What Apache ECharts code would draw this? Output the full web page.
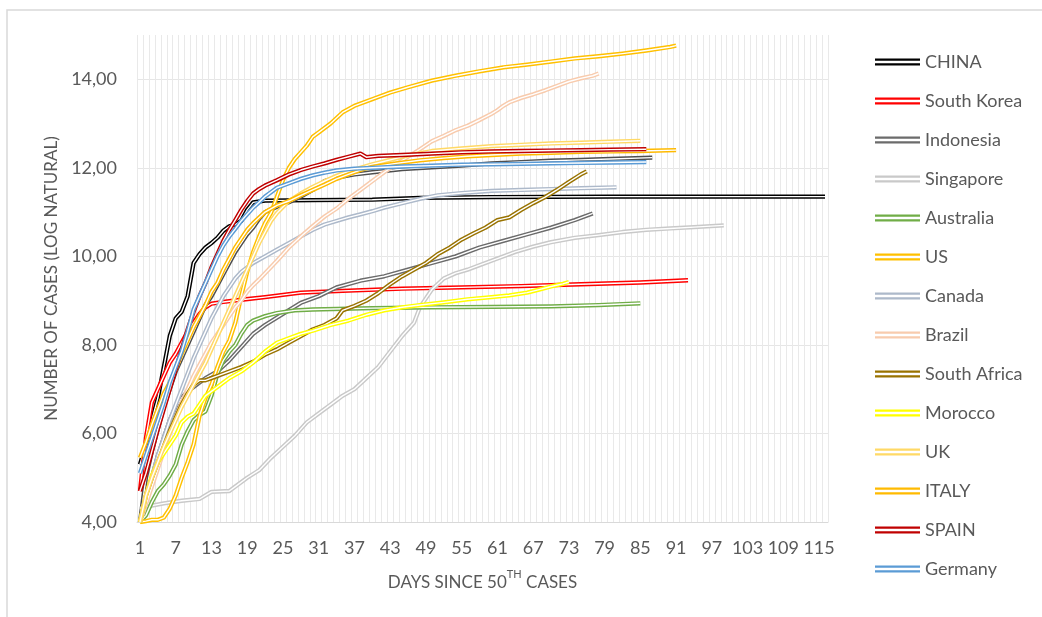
<!DOCTYPE html>
<html>
<head>
<meta charset="utf-8">
<script src="https://cdn.jsdelivr.net/npm/echarts@6/dist/echarts.min.js"></script>
<style>
  html, body { margin: 0; padding: 0; background: #ffffff; }
  #chart { width: 1042px; height: 617px; }
</style>
</head>
<body>
<div id="chart"></div>
<script>
// Days since the 50th confirmed case (category axis 1..116)
const days = [];
for (let d = 1; d <= 116; d++) days.push(String(d));

// ln(cumulative cases) as [day, value] pairs
const china = [[1,5.3],[2,5.75],[3,6.3],[4,6.8],[5,7.5],[6,8.2],[7,8.6],[8,8.75],[9,9.1],[10,9.85],[11,10.05],[12,10.2],[13,10.3],[14,10.42],[15,10.58],[16,10.68],[17,10.72],[18,10.8],[19,11.05],[20,11.22],[22,11.26],[30,11.27],[40,11.28],[48,11.32],[60,11.34],[80,11.35],[116,11.35]];
const southKorea = [[1,4.7],[2,5.9],[3,6.7],[4,7.0],[5,7.3],[6,7.6],[7,7.8],[8,8.05],[9,8.3],[10,8.5],[11,8.7],[12,8.85],[13,8.93],[15,8.97],[18,9.02],[22,9.08],[28,9.18],[35,9.22],[45,9.27],[55,9.3],[65,9.33],[75,9.37],[85,9.41],[93,9.46]];
const indonesia = [[1,4.0],[2,4.5],[3,5.0],[4,5.5],[5,5.9],[6,6.3],[7,6.6],[8,6.8],[9,6.95],[10,7.05],[11,7.15],[12,7.25],[14,7.4],[16,7.65],[18,7.95],[20,8.25],[22,8.45],[25,8.7],[28,8.95],[31,9.1],[34,9.3],[38,9.45],[42,9.55],[46,9.7],[50,9.85],[54,10.0],[58,10.2],[62,10.35],[66,10.5],[70,10.65],[74,10.82],[77,10.97]];
const series15 = [[1,4.0],[2,5.0],[3,5.6],[4,6.1],[5,6.6],[6,7.0],[7,7.4],[8,7.7],[9,8.0],[10,8.3],[11,8.6],[12,8.9],[13,9.1],[14,9.35],[15,9.6],[16,9.85],[17,10.1],[18,10.3],[19,10.5],[20,10.65],[21,10.85],[22,11.0],[24,11.12],[26,11.22],[28,11.35],[30,11.5],[32,11.7],[34,11.78],[37,11.85],[40,11.9],[45,11.97],[50,12.01],[55,12.05],[60,12.1],[65,12.13],[70,12.16],[75,12.18],[80,12.2],[87,12.23]];
const singapore = [[1,4.3],[3,4.37],[5,4.42],[8,4.48],[11,4.52],[12,4.6],[13,4.68],[16,4.7],[17,4.8],[19,5.0],[21,5.17],[23,5.45],[25,5.7],[27,5.95],[29,6.25],[31,6.45],[33,6.65],[35,6.85],[37,7.0],[39,7.25],[41,7.5],[43,7.85],[45,8.2],[47,8.5],[48,8.85],[49,9.05],[50,9.25],[52,9.5],[54,9.62],[56,9.7],[58,9.8],[61,9.95],[64,10.1],[67,10.22],[70,10.32],[74,10.42],[78,10.48],[82,10.55],[86,10.6],[90,10.63],[94,10.66],[99,10.7]];
const australia = [[1,4.0],[2,4.15],[3,4.45],[4,4.7],[5,4.85],[6,5.05],[7,5.3],[8,5.75],[9,6.05],[10,6.3],[11,6.42],[12,6.5],[13,6.85],[14,7.35],[15,7.65],[16,7.85],[17,8.0],[18,8.25],[19,8.45],[20,8.55],[22,8.65],[24,8.72],[27,8.78],[30,8.8],[40,8.83],[50,8.85],[60,8.86],[70,8.87],[78,8.9],[85,8.94]];
const us = [[1,4.0],[2,4.02],[3,4.05],[4,4.05],[5,4.1],[6,4.3],[7,4.6],[8,5.0],[9,5.35],[10,5.75],[11,6.4],[12,6.8],[13,7.1],[14,7.5],[15,7.85],[16,8.1],[17,8.5],[18,9.1],[19,9.65],[20,10.1],[21,10.45],[22,10.75],[23,10.98],[24,11.35],[25,11.72],[26,12.0],[27,12.2],[28,12.35],[29,12.5],[30,12.7],[31,12.8],[33,13.0],[35,13.25],[37,13.4],[40,13.55],[43,13.7],[46,13.82],[50,13.97],[54,14.08],[58,14.18],[62,14.27],[66,14.33],[70,14.4],[74,14.47],[78,14.52],[82,14.58],[86,14.65],[90,14.73],[91,14.76]];
const canada = [[1,4.0],[2,4.5],[3,5.0],[4,5.5],[5,5.9],[6,6.3],[7,6.65],[8,7.0],[9,7.35],[10,7.7],[11,8.0],[12,8.3],[13,8.6],[14,8.85],[15,9.1],[16,9.3],[17,9.5],[18,9.65],[19,9.75],[20,9.85],[22,10.0],[24,10.15],[26,10.3],[28,10.45],[30,10.6],[32,10.72],[34,10.8],[36,10.88],[38,10.95],[40,11.02],[42,11.1],[45,11.2],[48,11.3],[51,11.38],[55,11.43],[60,11.48],[65,11.5],[70,11.52],[75,11.54],[81,11.56]];
const brazil = [[1,4.0],[2,4.4],[3,4.8],[4,5.2],[5,5.6],[6,6.0],[7,6.35],[8,6.7],[9,7.0],[10,7.3],[11,7.55],[12,7.8],[13,8.05],[14,8.25],[15,8.45],[16,8.65],[17,8.85],[18,9.0],[19,9.2],[20,9.35],[21,9.48],[22,9.62],[24,9.9],[26,10.2],[28,10.45],[30,10.68],[32,10.9],[34,11.08],[36,11.3],[38,11.5],[40,11.7],[42,11.9],[44,12.08],[46,12.25],[48,12.42],[50,12.6],[52,12.72],[54,12.85],[56,12.95],[58,13.08],[60,13.22],[61,13.3],[62,13.4],[63,13.48],[65,13.58],[67,13.66],[69,13.75],[71,13.85],[73,13.95],[75,14.02],[77,14.08],[78,14.13]];
const southAfrica = [[1,4.0],[2,4.6],[3,5.0],[4,5.35],[5,5.7],[6,6.05],[7,6.35],[8,6.65],[9,6.9],[10,7.1],[11,7.2],[12,7.2],[13,7.25],[14,7.3],[16,7.4],[18,7.5],[20,7.62],[22,7.78],[24,7.9],[26,8.05],[28,8.2],[30,8.35],[32,8.45],[34,8.6],[35,8.78],[37,8.88],[39,9.0],[41,9.17],[43,9.37],[45,9.55],[47,9.7],[49,9.85],[51,10.05],[53,10.2],[55,10.38],[57,10.52],[59,10.65],[61,10.82],[63,10.88],[65,11.05],[67,11.2],[69,11.34],[71,11.5],[73,11.68],[75,11.85],[76,11.92]];
const morocco = [[1,4.0],[2,4.6],[3,5.05],[4,5.35],[5,5.55],[6,5.75],[7,5.95],[8,6.25],[9,6.38],[10,6.45],[11,6.65],[12,6.85],[13,6.95],[14,7.05],[15,7.15],[16,7.25],[18,7.4],[20,7.6],[22,7.85],[24,8.05],[26,8.15],[28,8.25],[30,8.32],[33,8.45],[36,8.55],[39,8.68],[42,8.78],[45,8.85],[48,8.9],[52,8.96],[56,9.03],[60,9.08],[63,9.12],[66,9.18],[68,9.25],[70,9.32],[72,9.38],[73,9.42]];
const uk = [[1,4.0],[2,4.6],[3,5.0],[4,5.35],[5,5.7],[6,6.0],[7,6.3],[8,6.6],[9,6.85],[10,7.1],[11,7.35],[12,7.6],[13,7.9],[14,8.2],[15,8.5],[16,8.8],[17,9.1],[18,9.4],[19,9.7],[20,10.0],[21,10.3],[22,10.55],[23,10.8],[24,10.98],[26,11.25],[28,11.42],[30,11.57],[32,11.7],[34,11.82],[36,11.92],[38,12.0],[40,12.08],[43,12.18],[46,12.28],[50,12.38],[55,12.44],[60,12.49],[65,12.52],[70,12.55],[75,12.57],[80,12.59],[85,12.61]];
const italy = [[1,5.45],[2,5.8],[3,6.2],[4,6.55],[5,6.9],[6,7.15],[7,7.45],[8,7.8],[9,8.1],[10,8.4],[11,8.65],[12,8.9],[13,9.2],[14,9.4],[15,9.7],[16,9.95],[17,10.2],[18,10.4],[19,10.6],[20,10.75],[22,11.0],[24,11.15],[26,11.25],[28,11.38],[30,11.5],[32,11.62],[34,11.75],[36,11.85],[38,11.95],[40,12.02],[44,12.1],[48,12.17],[52,12.22],[56,12.26],[60,12.29],[65,12.32],[70,12.34],[75,12.36],[80,12.37],[85,12.38],[91,12.4]];
const spain = [[1,4.7],[2,5.1],[3,5.6],[4,6.1],[5,6.55],[6,7.0],[7,7.45],[8,7.9],[9,8.35],[10,8.75],[11,9.1],[12,9.4],[13,9.75],[14,10.05],[15,10.35],[16,10.6],[17,10.82],[18,11.05],[19,11.25],[20,11.42],[21,11.52],[22,11.6],[24,11.72],[26,11.85],[28,11.95],[30,12.03],[32,12.1],[34,12.18],[36,12.25],[38,12.32],[39,12.24],[41,12.27],[45,12.29],[50,12.32],[55,12.35],[60,12.37],[65,12.38],[70,12.39],[75,12.4],[80,12.41],[86,12.42]];
const germany = [[1,5.1],[2,5.5],[3,5.9],[4,6.3],[5,6.7],[6,7.15],[7,7.5],[8,7.85],[9,8.3],[10,8.8],[11,9.1],[12,9.4],[13,9.7],[14,10.0],[15,10.25],[16,10.45],[17,10.62],[18,10.8],[19,10.95],[20,11.1],[21,11.22],[22,11.35],[23,11.45],[24,11.55],[26,11.65],[28,11.75],[30,11.83],[32,11.89],[34,11.94],[37,11.98],[40,12.0],[45,12.03],[50,12.05],[55,12.07],[60,12.08],[65,12.09],[70,12.1],[75,12.11],[80,12.12],[86,12.13]];

const countries = [
  { name: 'CHINA',        color: '#000000', data: china },
  { name: 'South Korea',  color: '#FF0000', data: southKorea },
  { name: 'Indonesia',    color: '#6B6B6B', data: indonesia },
  { name: 'Series15',     color: '#4F4F4F', data: series15 },
  { name: 'Singapore',    color: '#C9C9C9', data: singapore },
  { name: 'Australia',    color: '#70AD47', data: australia },
  { name: 'US',           color: '#FFC000', data: us },
  { name: 'Canada',       color: '#ADB9CA', data: canada },
  { name: 'Brazil',       color: '#F8CBAD', data: brazil },
  { name: 'South Africa', color: '#997300', data: southAfrica },
  { name: 'Morocco',      color: '#FFFF00', data: morocco },
  { name: 'UK',           color: '#FFD966', data: uk },
  { name: 'ITALY',        color: '#FFBA00', data: italy },
  { name: 'SPAIN',        color: '#C00000', data: spain },
  { name: 'Germany',      color: '#5B9BD5', data: germany }
];
const legendNames = ['CHINA','South Korea','Indonesia','Singapore','Australia','US','Canada','Brazil','South Africa','Morocco','UK','ITALY','SPAIN','Germany'];

const FONT = 'Lato, "Noto Sans", sans-serif';
const TEXT = '#595959';

// Each country is a double stroke: a wide coloured line with a thin white core
const series = [];
countries.forEach(c => {
  const pts = c.data.map(([d, v]) => [d - 1, v]);
  series.push({
    name: c.name, type: 'line', data: pts, symbol: 'none', silent: true,
    itemStyle: { color: c.color },
    lineStyle: { color: c.color, width: 4.3, join: 'round' },
    emphasis: { disabled: true }
  });
  series.push({
    name: c.name + ' core', type: 'line', data: pts, symbol: 'none', silent: true,
    itemStyle: { color: '#ffffff' },
    lineStyle: { color: '#ffffff', width: 1.4, join: 'round' },
    emphasis: { disabled: true }
  });
});

const chart = echarts.init(document.getElementById('chart'), null, { renderer: 'canvas' });
chart.setOption({
  animation: false,
  backgroundColor: '#ffffff',
  textStyle: { fontFamily: FONT },
  graphic: [{
    type: 'rect', silent: true, z: -10,
    shape: { x: 7, y: 10, width: 1200, height: 800 },
    style: { fill: 'none', stroke: '#d9d9d9', lineWidth: 1.5 }
  }],
  grid: { left: 137, right: 214, top: 35, bottom: 95, containLabel: false, outerBoundsMode: 'none' },
  legend: {
    orient: 'vertical', left: 875, top: 51, padding: 0,
    data: legendNames, selectedMode: false,
    icon: 'path://M0,0H45V2.2H0Z M0,4.7H45V6.9H0Z',
    itemWidth: 45, itemHeight: 7, itemGap: 17, symbolKeepAspect: false,
    itemStyle: { borderWidth: 0 },
    textStyle: { fontFamily: FONT, fontSize: 18, color: TEXT, lineHeight: 22 }
  },
  xAxis: {
    type: 'category', data: days, boundaryGap: true,
    name: '{n|DAYS SINCE 50}{s|TH}{n| CASES}',
    nameLocation: 'middle', nameGap: 47,
    nameTextStyle: {
      rich: {
        n: { fontFamily: FONT, fontSize: 17, color: TEXT, verticalAlign: 'bottom', lineHeight: 22 },
        s: { fontFamily: FONT, fontSize: 11, color: TEXT, verticalAlign: 'top', lineHeight: 12 }
      }
    },
    axisLine: { show: true, lineStyle: { color: '#d9d9d9', width: 1 } },
    axisTick: { show: false },
    axisLabel: { interval: 5, margin: 17, fontFamily: FONT, fontSize: 18, color: TEXT },
    splitLine: { show: true, interval: 0, lineStyle: { color: '#e9e9e9', width: 1 } }
  },
  yAxis: {
    type: 'value', min: 4, max: 15, interval: 2,
    name: 'NUMBER OF CASES (LOG NATURAL)',
    nameLocation: 'middle', nameGap: 76,
    nameTextStyle: { fontFamily: FONT, fontSize: 17, color: TEXT },
    axisLine: { show: false },
    axisTick: { show: false },
    axisLabel: {
      margin: 20, fontFamily: FONT, fontSize: 18, color: TEXT, showMaxLabel: false,
      formatter: v => v.toFixed(2).replace('.', ',')
    },
    splitLine: { show: true, showMaxLine: false, lineStyle: { color: '#e6e6e6', width: 1 } }
  },
  series: series
});
</script>
</body>
</html>
